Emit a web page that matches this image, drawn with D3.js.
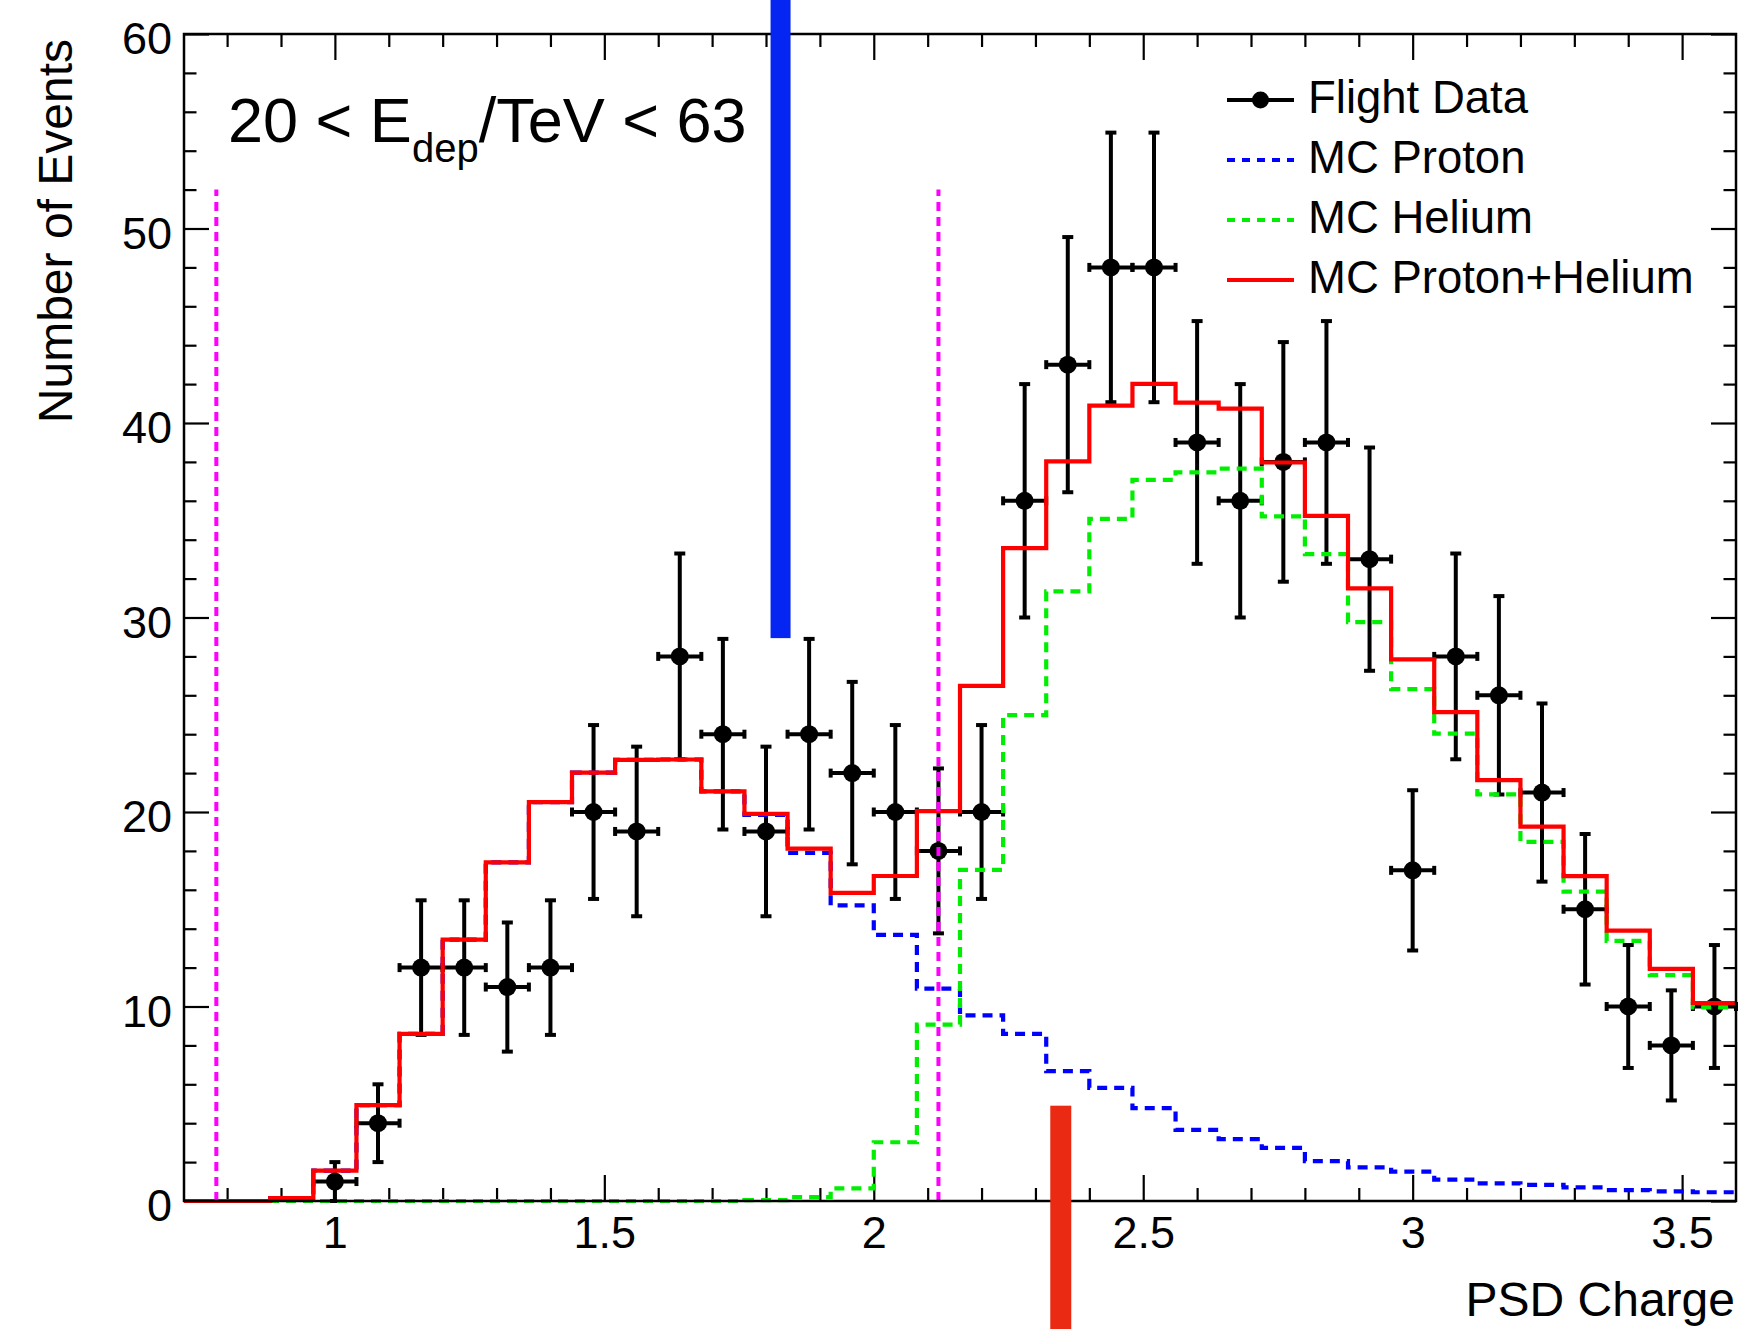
<!DOCTYPE html>
<html>
<head>
<meta charset="utf-8">
<script src="https://cdn.jsdelivr.net/npm/d3@7"></script>
<style>
  body { margin: 0; background: #fff; }
  svg { display: block; }
  text { font-family: "Liberation Sans", Arial, Helvetica, sans-serif; fill: #000; }
</style>
</head>
<body>
<svg id="chart" width="1749" height="1329"></svg>
<script>
// ---- PSD charge histogram binning (36 bins of 0.08) ----
const binEdges = [0.72, 0.80, 0.88, 0.96, 1.04, 1.12, 1.20, 1.28, 1.36, 1.44, 1.52, 1.60,
                  1.68, 1.76, 1.84, 1.92, 2.00, 2.08, 2.16, 2.24, 2.32, 2.40, 2.48, 2.56,
                  2.64, 2.72, 2.80, 2.88, 2.96, 3.04, 3.12, 3.20, 3.28, 3.36, 3.44, 3.52, 3.60];

// ---- Flight data: bin centre, counts, Poisson errors ----
const flightCharge = [1.00, 1.08, 1.16, 1.24, 1.32, 1.40, 1.48, 1.56, 1.64, 1.72, 1.80,
                      1.88, 1.96, 2.04, 2.12, 2.20, 2.28, 2.36, 2.44, 2.52, 2.60, 2.68,
                      2.76, 2.84, 2.92, 3.00, 3.08, 3.16, 3.24, 3.32, 3.40, 3.48, 3.56];
const flightCounts = [1, 4, 12, 12, 11, 12, 20, 19, 28, 24, 19,
                      24, 22, 20, 18, 20, 36, 43, 48, 48, 39, 36,
                      38, 39, 33, 17, 28, 26, 21, 15, 10, 8, 10];
const flightErrors = [1.00, 2.00, 3.46, 3.46, 3.32, 3.46, 4.47, 4.36, 5.29, 4.90, 4.36,
                      4.90, 4.69, 4.47, 4.24, 4.47, 6.00, 6.56, 6.93, 6.93, 6.24, 6.00,
                      6.16, 6.24, 5.74, 4.12, 5.29, 5.10, 4.58, 3.87, 3.16, 2.83, 3.16];
const flightHalfWidth = 0.04;

// ---- Monte Carlo templates, one value per bin ----
const mcProton = [0, 0, 0.15, 1.56, 4.93, 8.59, 13.44, 17.41, 20.51, 22.02, 22.68, 22.70,
                  21.06, 19.85, 17.90, 15.20, 13.68, 10.92, 9.54, 8.59, 6.68, 5.82, 4.77, 3.66,
                  3.18, 2.73, 2.05, 1.73, 1.51, 1.10, 0.91, 0.83, 0.70, 0.56, 0.50, 0.45];
const mcHelium = [0, 0, 0, 0, 0, 0, 0, 0, 0, 0, 0, 0,
                  0, 0.05, 0.20, 0.65, 3.02, 9.07, 17.02, 24.98, 31.34, 35.07, 37.08, 37.46,
                  37.65, 35.20, 33.26, 29.76, 26.32, 24.03, 20.91, 18.46, 15.91, 13.37, 11.61, 9.96];
const mcSum    = [0, 0, 0.15, 1.56, 4.93, 8.59, 13.44, 17.41, 20.51, 22.02, 22.68, 22.70,
                  21.06, 19.90, 18.12, 15.84, 16.71, 20.05, 26.48, 33.57, 38.03, 40.89, 42.01, 41.05,
                  40.74, 37.97, 35.23, 31.50, 27.85, 25.14, 21.64, 19.25, 16.70, 13.90, 11.93, 10.18];

// ---- charge selection window (dotted magenta lines) ----
const cutCharge = [0.78, 2.12];
const cutHeight = 52;

// ---- axis ticks ----
const xMajorTicks = [1, 1.5, 2, 2.5, 3, 3.5];
const xMinorTicks = [0.8, 0.9, 1.1, 1.2, 1.3, 1.4, 1.6, 1.7, 1.8, 1.9, 2.1, 2.2, 2.3, 2.4,
                     2.6, 2.7, 2.8, 2.9, 3.1, 3.2, 3.3, 3.4];
const yMajorTicks = [0, 10, 20, 30, 40, 50, 60];
const yMinorTicks = [2, 4, 6, 8, 12, 14, 16, 18, 22, 24, 26, 28, 32, 34, 36, 38,
                     42, 44, 46, 48, 52, 54, 56, 58];

// ---- highlight markers (coloured bars) ----
const highlightBlue = { charge: 1.827, level: 28.94 };
const highlightRed  = { charge: 2.347, level: 4.9 };

// ---- legend entries ----
const legendLabels = ["Flight Data", "MC Proton", "MC Helium", "MC Proton+Helium"];

// ================== drawing ==================
const W = 1749, H = 1329;
const plot = { left: 184, right: 1736, top: 34, bottom: 1201 };

const svg = d3.select("#chart");
svg.append("rect").attr("width", W).attr("height", H).attr("fill", "#fff");

const x = d3.scaleLinear().domain([binEdges[0], binEdges[binEdges.length - 1]])
  .range([plot.left, plot.right]);
const y = d3.scaleLinear().domain([0, 60]).range([plot.bottom, plot.top]);

const colors = {
  data: "#000000",
  proton: "#0000ff",
  helium: "#00ee00",
  sum: "#ff0000",
  cut: "#ff00ff"
};

// --- axes with inside ticks on all four sides ---
function styleAxis(g) {
  g.select(".domain").remove();
  g.selectAll(".tick line").attr("stroke", "#000").attr("stroke-width", 2.2);
}

const xMajLen = 26, xMinLen = 13, yMajLen = 25, yMinLen = 12.5;

const gxB = svg.append("g").attr("transform", `translate(0,${plot.bottom})`)
  .call(d3.axisBottom(x).tickValues(xMajorTicks).tickSize(-xMajLen).tickPadding(15)
    .tickFormat(d3.format("")));
styleAxis(gxB);
gxB.selectAll("text").attr("font-size", 45).attr("font-family", null)
  .attr("y", null).attr("dy", null).attr("transform", "translate(0,47)");

svg.append("g").attr("transform", `translate(0,${plot.bottom})`)
  .call(d3.axisBottom(x).tickValues(xMinorTicks).tickSize(-xMinLen).tickFormat(""))
  .call(styleAxis);
svg.append("g").attr("transform", `translate(0,${plot.top})`)
  .call(d3.axisTop(x).tickValues(xMajorTicks).tickSize(-xMajLen).tickFormat(""))
  .call(styleAxis);
svg.append("g").attr("transform", `translate(0,${plot.top})`)
  .call(d3.axisTop(x).tickValues(xMinorTicks).tickSize(-xMinLen).tickFormat(""))
  .call(styleAxis);

const gyL = svg.append("g").attr("transform", `translate(${plot.left},0)`)
  .call(d3.axisLeft(y).tickValues(yMajorTicks).tickSize(-yMajLen).tickPadding(12));
styleAxis(gyL);
gyL.selectAll("text").attr("font-size", 45).attr("font-family", null).attr("dy", "0.44em");

svg.append("g").attr("transform", `translate(${plot.left},0)`)
  .call(d3.axisLeft(y).tickValues(yMinorTicks).tickSize(-yMinLen).tickFormat(""))
  .call(styleAxis);
svg.append("g").attr("transform", `translate(${plot.right},0)`)
  .call(d3.axisRight(y).tickValues(yMajorTicks).tickSize(-yMajLen).tickFormat(""))
  .call(styleAxis);
svg.append("g").attr("transform", `translate(${plot.right},0)`)
  .call(d3.axisRight(y).tickValues(yMinorTicks).tickSize(-yMinLen).tickFormat(""))
  .call(styleAxis);

// --- flight data points with error bars ---
const pts = flightCharge.map((c, i) => ({ c, n: flightCounts[i], e: flightErrors[i] }));
const gData = svg.append("g").attr("stroke", colors.data).attr("stroke-width", 4);
pts.forEach(p => {
  const cx = x(p.c), cy = y(p.n);
  const y0 = y(Math.max(0, p.n - p.e)), y1 = y(p.n + p.e);
  const xa = x(p.c - flightHalfWidth), xb = x(p.c + flightHalfWidth);
  gData.append("line").attr("x1", cx).attr("x2", cx).attr("y1", y0).attr("y2", y1);
  gData.append("line").attr("x1", cx - 5.5).attr("x2", cx + 5.5).attr("y1", y0).attr("y2", y0);
  gData.append("line").attr("x1", cx - 5.5).attr("x2", cx + 5.5).attr("y1", y1).attr("y2", y1);
  gData.append("line").attr("x1", xa).attr("x2", xb).attr("y1", cy).attr("y2", cy);
  gData.append("line").attr("x1", xa).attr("x2", xa).attr("y1", cy - 4.5).attr("y2", cy + 4.5);
  gData.append("line").attr("x1", xb).attr("x2", xb).attr("y1", cy - 4.5).attr("y2", cy + 4.5);
});
gData.selectAll("circle").data(pts).join("circle")
  .attr("cx", d => x(d.c)).attr("cy", d => y(d.n)).attr("r", 9)
  .attr("fill", colors.data).attr("stroke", "none");

// --- step histograms ---
const stepLine = d3.line().x(d => x(d[0])).y(d => y(d[1])).curve(d3.curveStepAfter);
function stepPoints(vals) {
  const p = vals.map((v, i) => [binEdges[i], v]);
  p.push([binEdges[binEdges.length - 1], vals[vals.length - 1]]);
  return p;
}
svg.append("path").attr("d", stepLine(stepPoints(mcProton)))
  .attr("fill", "none").attr("stroke", colors.proton).attr("stroke-width", 4.2)
  .attr("stroke-dasharray", "10,7");
svg.append("path").attr("d", stepLine(stepPoints(mcHelium)))
  .attr("fill", "none").attr("stroke", colors.helium).attr("stroke-width", 4.2)
  .attr("stroke-dasharray", "10,7");
svg.append("path").attr("d", stepLine(stepPoints(mcSum)))
  .attr("fill", "none").attr("stroke", colors.sum).attr("stroke-width", 4.2);

// --- selection window ---
svg.append("g").selectAll("line").data(cutCharge).join("line")
  .attr("x1", d => x(d)).attr("x2", d => x(d))
  .attr("y1", y(0)).attr("y2", y(cutHeight))
  .attr("stroke", colors.cut).attr("stroke-width", 4).attr("stroke-dasharray", "9,6");

// --- frame ---
svg.append("rect")
  .attr("x", plot.left).attr("y", plot.top)
  .attr("width", plot.right - plot.left).attr("height", plot.bottom - plot.top)
  .attr("fill", "none").attr("stroke", "#000").attr("stroke-width", 2.5);

// --- axis titles ---
svg.append("text").attr("transform", `translate(72,39) rotate(-90)`)
  .attr("text-anchor", "end").attr("font-size", 48).text("Number of Events");
svg.append("text").attr("x", 1735).attr("y", 1316)
  .attr("text-anchor", "end").attr("font-size", 48).text("PSD Charge");

// --- energy range label ---
const title = svg.append("text").attr("x", 228).attr("y", 142).attr("font-size", 63);
title.append("tspan").text("20 < E");
title.append("tspan").attr("font-size", 40).attr("dy", 20).text("dep");
title.append("tspan").attr("dy", -20).text("/TeV < 63");

// --- legend ---
const legX0 = 1227, legX1 = 1294, legText = 1308, legTop = 100, legStep = 60;
const leg = svg.append("g");
legendLabels.forEach((lab, i) => {
  const cy = legTop + i * legStep;
  const line = leg.append("line").attr("x1", legX0).attr("x2", legX1)
    .attr("y1", cy).attr("y2", cy).attr("stroke-width", 4);
  if (i === 0) {
    line.attr("stroke", colors.data);
    leg.append("circle").attr("cx", (legX0 + legX1) / 2).attr("cy", cy).attr("r", 8.5)
      .attr("fill", colors.data);
  } else if (i === 1) {
    line.attr("stroke", colors.proton).attr("stroke-dasharray", "8,7");
  } else if (i === 2) {
    line.attr("stroke", colors.helium).attr("stroke-dasharray", "8,7");
  } else {
    line.attr("stroke", colors.sum);
  }
  leg.append("text").attr("x", legText).attr("y", cy + 13).attr("font-size", 45.5).text(lab);
});

// --- highlight bars ---
svg.append("rect")
  .attr("x", x(highlightBlue.charge) - 10).attr("y", 0)
  .attr("width", 20).attr("height", y(highlightBlue.level))
  .attr("fill", "#0526f2");
svg.append("rect")
  .attr("x", x(highlightRed.charge) - 10.5).attr("y", y(highlightRed.level))
  .attr("width", 21).attr("height", H - y(highlightRed.level))
  .attr("fill", "#ea2a12");
</script>
</body>
</html>
